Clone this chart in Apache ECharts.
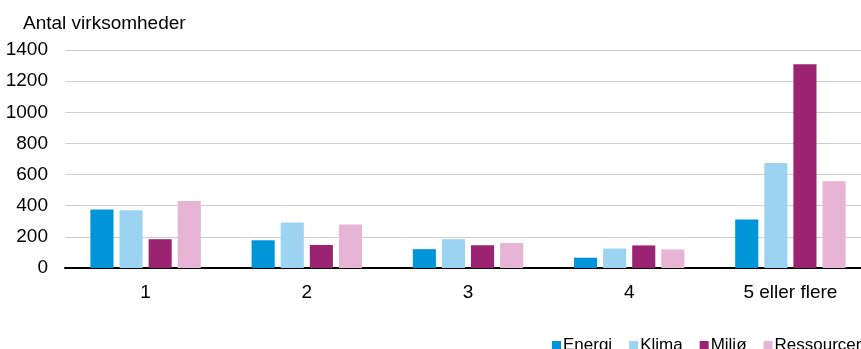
<!DOCTYPE html>
<html>
<head>
<meta charset="utf-8">
<script src="https://cdn.jsdelivr.net/npm/echarts@6/dist/echarts.min.js"></script>
<style>
    html, body { margin: 0; padding: 0; background: #fff; overflow: hidden; }
    /* plotområdet fortsætter lidt ud over højre kant, som i originalen */
    #chart { width: 871px; height: 349px; }
</style>
</head>
<body>
<div id="chart"></div>
<script>
// kategorier og data
var categories = ['1', '2', '3', '4', '5 eller flere'];
var energi = [376, 178, 121, 66, 312];
var klima = [371, 293, 185, 125, 675];
var miljo = [185, 148, 146, 145, 1309];
var ressourcer = [431, 280, 161, 119, 557];
var yTicks = [0, 200, 400, 600, 800, 1000, 1200, 1400];

var colors = ['#0094d8', '#9bd3f0', '#9b2371', '#e7b4d5'];
var font = 'Liberation Sans, Arial, sans-serif';

var myChart = echarts.init(document.getElementById('chart'));

function barSeries(name, data, color) {
    return {
        name: name,
        type: 'bar',
        data: data,
        barGap: '26%',
        barCategoryGap: '31.5%',
        itemStyle: { color: color },
        animation: false
    };
}

var option = {
    textStyle: { fontFamily: font },
    title: {
        text: 'Antal virksomheder',
        left: 18,
        top: 9,
        textStyle: { fontFamily: font, fontSize: 19, fontWeight: 'normal', color: '#000' }
    },
    grid: {
        left: 65,
        right: 0,
        top: 50,
        bottom: 81
    },
    legend: {
        left: 547,
        top: 332,
        width: 400,
        itemWidth: 9,
        itemHeight: 9,
        itemGap: 17,
        icon: 'rect',
        textStyle: { fontFamily: font, fontSize: 17, color: '#000', padding: [0, 0, 0, -3] },
        data: ['Energi', 'Klima', 'Miljø', 'Ressourcer']
    },
    xAxis: {
        type: 'category',
        data: categories,
        axisTick: { show: false },
        axisLine: { lineStyle: { color: '#000', width: 2 } },
        axisLabel: { color: '#000', fontSize: 19, margin: 15, fontFamily: font }
    },
    yAxis: {
        type: 'value',
        min: yTicks[0],
        max: yTicks[yTicks.length - 1],
        interval: 200,
        axisLine: { show: false },
        axisTick: { show: false },
        splitLine: { lineStyle: { color: '#cfcfcf', width: 1 } },
        axisLabel: {
            color: '#000',
            fontSize: 19,
            margin: 17,
            fontFamily: font,
            formatter: function (v) { return String(v); }
        }
    },
    series: [
        barSeries('Energi', energi, colors[0]),
        barSeries('Klima', klima, colors[1]),
        barSeries('Miljø', miljo, colors[2]),
        barSeries('Ressourcer', ressourcer, colors[3])
    ]
};

myChart.setOption(option);
</script>
</body>
</html>
